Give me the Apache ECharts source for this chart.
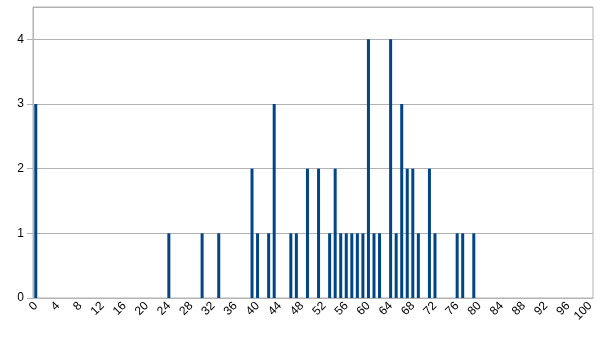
<!DOCTYPE html>
<html>
<head>
<meta charset="utf-8">
<script src="https://cdn.jsdelivr.net/npm/echarts@6/dist/echarts.min.js"></script>
<style>
html, body { margin: 0; padding: 0; background: #fff; }
#chart { width: 604px; height: 340px; }
</style>
</head>
<body>
<div id="chart"></div>
<script>
// x values run 0..100, one category each
const categories = Array.from({ length: 101 }, (_, i) => String(i))
// bars that are non-zero
const barX = [0, 24, 30, 33, 39, 40, 42, 43, 46, 47, 49, 51, 53, 54, 55, 56, 57, 58, 59, 60, 61, 62, 64, 65, 66, 67, 68, 69, 71, 72, 76, 77, 79]
const barCount = [3, 1, 1, 1, 2, 1, 1, 3, 1, 1, 2, 2, 1, 2, 1, 1, 1, 1, 1, 4, 1, 1, 4, 1, 3, 2, 2, 1, 2, 1, 1, 1, 1]
const yTicks = [0, 1, 2, 3, 4]

const values = categories.map(() => '-')
barX.forEach((x, i) => { values[x] = barCount[i] })

const gridColor = '#b3b3b3'
const textFont = 'Liberation Sans'

const chart = echarts.init(document.getElementById('chart'))
chart.setOption({
    animation: false,
    grid: {
        left: 33,
        right: 11,
        top: 7,
        bottom: 42,
        show: true,
        borderColor: gridColor,
        borderWidth: 1
    },
    xAxis: {
        type: 'category',
        data: categories,
        boundaryGap: true,
        axisLine: { lineStyle: { color: gridColor } },
        axisTick: {
            interval: 0,
            length: 5,
            lineStyle: { color: gridColor }
        },
        axisLabel: {
            interval: 3,
            rotate: 45,
            margin: 6,
            color: '#000',
            fontFamily: textFont,
            fontSize: 12
        }
    },
    yAxis: {
        type: 'value',
        min: 0,
        max: 4.5,
        interval: 1,
        axisLine: { show: true, lineStyle: { color: gridColor } },
        axisTick: { show: true, length: 6, lineStyle: { color: gridColor } },
        splitLine: { lineStyle: { color: gridColor } },
        axisLabel: {
            showMaxLabel: false,
            margin: 9,
            color: '#000',
            fontFamily: textFont,
            fontSize: 12,
            formatter: v => (yTicks.indexOf(v) >= 0 ? String(v) : '')
        }
    },
    series: [{
        type: 'bar',
        data: values,
        barWidth: 3,
        itemStyle: { color: '#004586' }
    }]
})
</script>
</body>
</html>
